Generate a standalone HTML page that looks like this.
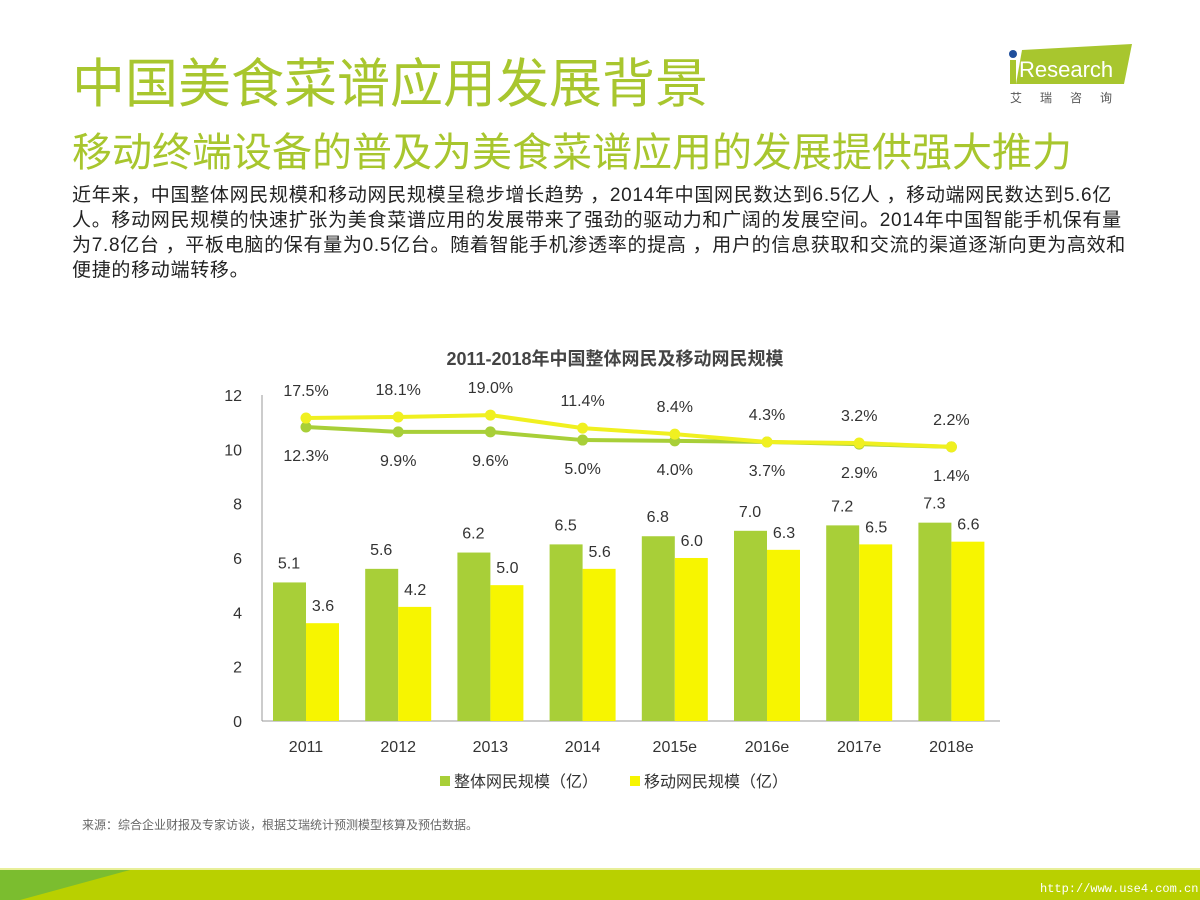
<!DOCTYPE html>
<html><head><meta charset="utf-8">
<style>
body{margin:0;width:1200px;height:900px;background:#fff;overflow:hidden;position:relative;font-family:"Liberation Sans","Noto Sans CJK SC",sans-serif}
.t1{position:absolute;left:72px;top:42px;font-size:53px;color:#a8c62e;white-space:nowrap}
.t2{position:absolute;left:72px;top:120px;font-size:40px;color:#a8c62e;white-space:nowrap}
.p{position:absolute;left:72px;top:183px;font-size:19px;letter-spacing:0.7px;line-height:25px;color:#222;white-space:nowrap}
.src{position:absolute;left:82px;top:816px;font-size:12px;color:#666}
</style></head><body>
<div class="t1">中国美食菜谱应用发展背景</div>
<div class="t2">移动终端设备的普及为美食菜谱应用的发展提供强大推力</div>
<div class="p">近年来，中国整体网民规模和移动网民规模呈稳步增长趋势 ，2014年中国网民数达到6.5亿人 ，移动端网民数达到5.6亿<br>人。移动网民规模的快速扩张为美食菜谱应用的发展带来了强劲的驱动力和广阔的发展空间。2014年中国智能手机保有量<br>为7.8亿台 ，平板电脑的保有量为0.5亿台。随着智能手机渗透率的提高 ，用户的信息获取和交流的渠道逐渐向更为高效和<br>便捷的移动端转移。</div>
<svg style="position:absolute;left:1000px;top:40px" width="150" height="70">
<polygon points="22,10 132,4 124,44 16,44" fill="#a8c62e"/>
<circle cx="13" cy="14" r="4" fill="#1f4e9c"/>
<rect x="10" y="20" width="6" height="24" fill="#a8c62e"/>
<text x="19" y="37" font-size="22" fill="#fff" font-family="Liberation Sans">Research</text>
<text x="10" y="62" font-size="12" fill="#555" letter-spacing="18">艾瑞咨询</text>
</svg>
<svg id="chart" style="position:absolute;left:0;top:330px" width="1200" height="480"></svg>
<div class="src">来源：综合企业财报及专家访谈，根据艾瑞统计预测模型核算及预估数据。</div>
<svg style="position:absolute;left:0;top:868px" width="1200" height="32">
<rect width="1200" height="32" fill="#b9d000"/>
<rect width="1200" height="2" fill="#e8ef9a"/>
<polygon points="0,32 0,2 130,2 20,32" fill="#7bbd2f"/>
<text x="1040" y="24" font-size="12" fill="#fff" font-family="Liberation Mono">http://www.use4.com.cn</text>
</svg>
<script>
const categories=["2011","2012","2013","2014","2015e","2016e","2017e","2018e"];
const totalUsers=[5.1,5.6,6.2,6.5,6.8,7.0,7.2,7.3];
const mobileUsers=[3.6,4.2,5.0,5.6,6.0,6.3,6.5,6.6];
const mobileGrowthLabels=["17.5%","18.1%","19.0%","11.4%","8.4%","4.3%","3.2%","2.2%"];
const totalGrowthLabels=["12.3%","9.9%","9.6%","5.0%","4.0%","3.7%","2.9%","1.4%"];
const mobileLinePos=[11.15,11.19,11.26,10.78,10.56,10.27,10.23,10.09];
const totalLinePos=[10.82,10.64,10.64,10.34,10.31,10.27,10.19,10.09];
const yTicks=[0,2,4,6,8,10,12];
const svg=document.getElementById('chart');const NS='http://www.w3.org/2000/svg';
function el(t,a,txt){const e=document.createElementNS(NS,t);for(const k in a)e.setAttribute(k,a[k]);if(txt!=null)e.textContent=txt;svg.appendChild(e);return e;}
const y0=391,k=27.17;const ys=v=>y0-v*k;const xs=i=>306+i*92.2;
let e=el('text',{x:615,y:35,'font-size':18,'font-weight':'bold','text-anchor':'middle',fill:'#444'},'2011-2018年中国整体网民及移动网民规模');

e=el('line',{x1:262,y1:65,x2:262,y2:y0,stroke:'#999'});
e=el('line',{x1:262,y1:y0,x2:1000,y2:y0,stroke:'#999'});
yTicks.forEach(t=>{const e=el('text',{x:242,y:ys(t)+6,'font-size':16,'text-anchor':'end',fill:'#333'},t);});
categories.forEach((c,i)=>{
 const x=xs(i);
 let b=el('rect',{x:x-33,y:ys(totalUsers[i]),width:33,height:totalUsers[i]*k,fill:'#a8cf38'});
 b=el('rect',{x:x,y:ys(mobileUsers[i]),width:33,height:mobileUsers[i]*k,fill:'#f7f500'});
 let t=el('text',{x:x-17,y:ys(totalUsers[i])-14,'font-size':16,'text-anchor':'middle',fill:'#333'},totalUsers[i].toFixed(1));
 t=el('text',{x:x+17,y:ys(mobileUsers[i])-12,'font-size':16,'text-anchor':'middle',fill:'#333'},mobileUsers[i].toFixed(1));
 t=el('text',{x:x,y:y0+31,'font-size':16,'text-anchor':'middle',fill:'#333'},c);
});
function line(vals,color,name){
 const l=el('polyline',{points:vals.map((v,i)=>xs(i)+','+ys(v)).join(' '),fill:'none',stroke:color,'stroke-width':4});
 
 vals.forEach((v,i)=>{const c=el('circle',{cx:xs(i),cy:ys(v),r:5.5,fill:color});});
}
line(totalLinePos,'#a8cf38','total-growth-line');
line(mobileLinePos,'#f0f020','mobile-growth-line');
mobileLinePos.forEach((v,i)=>{const t=el('text',{x:xs(i),y:ys(v)-22,'font-size':16,'text-anchor':'middle',fill:'#333'},mobileGrowthLabels[i]);});
totalLinePos.forEach((v,i)=>{const t=el('text',{x:xs(i),y:ys(v)+34,'font-size':16,'text-anchor':'middle',fill:'#333'},totalGrowthLabels[i]);});
e=el('rect',{x:440,y:446,width:10,height:10,fill:'#a8cf38'});
e=el('text',{x:454,y:457,'font-size':16,fill:'#333'},'整体网民规模（亿）');
e=el('rect',{x:630,y:446,width:10,height:10,fill:'#f7f500'});
e=el('text',{x:644,y:457,'font-size':16,fill:'#333'},'移动网民规模（亿）');
</script>
</body></html>
